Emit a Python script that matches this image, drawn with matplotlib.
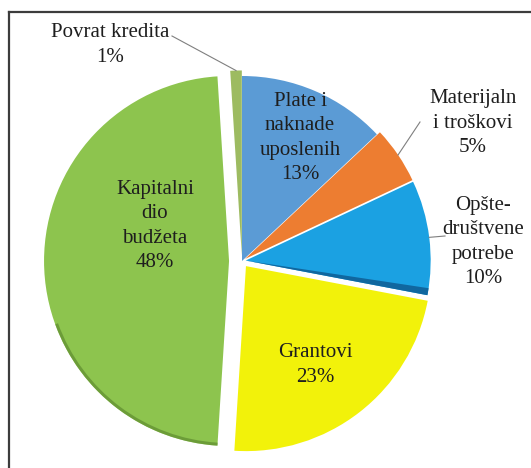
import numpy as np
import matplotlib
matplotlib.use('Agg')
from matplotlib import pyplot as plt
from matplotlib.patches import Wedge

plt.rcParams['font.family'] = ['Liberation Serif', 'DejaVu Serif']

# budget structure, clockwise from 12 o'clock
categories = ['Plate i\nnaknade\nuposlenih', 'Materijaln\ni troškovi',
              'Opšte-\ndruštvene\npotrebe', 'Grantovi',
              'Kapitalni\ndio\nbudžeta', 'Povrat kredita']
shares = [13, 5, 10, 23, 48, 1]
colors = ['#5b9bd5', '#ed7d31', '#1ba1e2', '#f2f20a', '#8dc44e', '#9dbb61']
explode = [0.0, 0.02, 0.02, 0.035, 0.07, 0.03]   # fraction of radius

# label anchors (pixel coords, y up) and leader line starts
label_pos = [(300, 330), (473, 345), (483, 226), (315, 103), (155, 242), (110, 423)]
leader_end = [None, (420, 346), (445, 232), None, None, (172, 432)]

W, H = 531, 468
cx, cy, R = 242, 207, 185

fig = plt.figure(figsize=(W / 100, H / 100), dpi=100)
ax = fig.add_axes([0, 0, 1, 1])

# pie's explode is in data units, so scale by the radius
wedges, _ = ax.pie(shares, colors=colors, explode=[e * R for e in explode],
                   startangle=90, counterclock=False, center=(cx, cy),
                   radius=R, wedgeprops=dict(linewidth=0))

# a bit of the bevel shading seen in the original
opste, green = wedges[2], wedges[4]
ax.add_patch(Wedge(opste.center, opste.r, opste.theta1, opste.theta1 + 2.2,
                   facecolor='#10679f', linewidth=0))
ax.add_patch(Wedge(green.center, green.r, 200, green.theta2, width=3,
                   facecolor='#5e8c30', linewidth=0, alpha=0.7))

for w, cat, s, pos, le in zip(wedges, categories, shares, label_pos, leader_end):
    ax.text(pos[0], pos[1], f'{cat}\n{s}%', ha='center', va='center',
            fontsize=15, color='#1e1e1e', linespacing=1.4)
    if le is not None:
        mid = np.deg2rad((w.theta1 + w.theta2) / 2)
        ex = w.center[0] + w.r * np.cos(mid)
        ey = w.center[1] + w.r * np.sin(mid)
        ax.plot([le[0], ex], [le[1], ey], color='#7f7f7f', linewidth=0.8)

# frame of the original figure (only top and left edges visible)
ax.plot([9, W], [H - 12, H - 12], color='#3c3c3c', linewidth=1.6)
ax.plot([9, 9], [0, H - 12], color='#3c3c3c', linewidth=1.6)

ax.set_xlim(0, W)
ax.set_ylim(0, H)
ax.set_aspect('equal')
ax.axis('off')

fig.savefig('out.png', dpi=100, facecolor='white')
